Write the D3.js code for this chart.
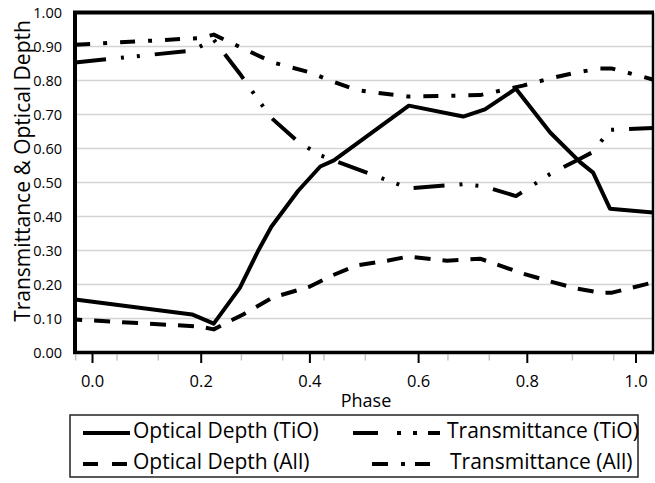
<!DOCTYPE html>
<html>
<head>
<meta charset="utf-8">
<script src="https://cdn.jsdelivr.net/npm/d3@7"></script>
<style>
  body { margin: 0; background: #fff; }
  svg { font-family: "Open Sans", sans-serif; }
</style>
</head>
<body>
<div id="chart"></div>
<script>
// data
var phaseTiO = [-0.031, 0.184, 0.224, 0.272, 0.305, 0.33, 0.379, 0.42, 0.445, 0.583, 0.683, 0.723, 0.78, 0.843, 0.898, 0.922, 0.953, 1.032];
var odTiO = [0.156, 0.112, 0.085, 0.19, 0.297, 0.37, 0.475, 0.547, 0.565, 0.726, 0.694, 0.715, 0.776, 0.647, 0.56, 0.529, 0.423, 0.412];
var trTiO = [0.853, 0.888, 0.92, 0.82, 0.745, 0.69, 0.62, 0.58, 0.565, 0.483, 0.495, 0.488, 0.46, 0.525, 0.57, 0.59, 0.655, 0.66];

var phaseAll = [-0.031, 0.2, 0.224, 0.278, 0.333, 0.401, 0.438, 0.487, 0.543, 0.581, 0.653, 0.714, 0.793, 0.843, 0.892, 0.935, 0.957, 1.032];
var odAll = [0.097, 0.076, 0.068, 0.112, 0.162, 0.194, 0.224, 0.256, 0.27, 0.282, 0.27, 0.276, 0.232, 0.209, 0.188, 0.176, 0.176, 0.206];
var trAll = [0.905, 0.925, 0.935, 0.894, 0.853, 0.824, 0.8, 0.772, 0.76, 0.753, 0.755, 0.757, 0.785, 0.806, 0.824, 0.835, 0.835, 0.803];

var xTicks = [0, 0.2, 0.4, 0.6, 0.8, 1.0];
var xMinorTicks = [-0.031, 0.045, 0.121, 0.274, 0.35, 0.426, 0.502, 0.654, 0.73, 0.883, 0.959];
var yTicks = [0, 0.1, 0.2, 0.3, 0.4, 0.5, 0.6, 0.7, 0.8, 0.9, 1.0];

var seriesNames = ["Optical Depth (TiO)", "Transmittance (TiO)", "Optical Depth (All)", "Transmittance (All)"];

// layout
var W = 655, H = 483;
var plot = { left: 75, right: 653, top: 12.5, bottom: 352.5 };

var svg = d3.select("#chart").append("svg")
  .attr("width", W)
  .attr("height", H);

var x = d3.scaleLinear().domain([-0.0313, 1.0322]).range([plot.left, plot.right]);
var y = d3.scaleLinear().domain([0, 1]).range([plot.bottom, plot.top]);

// gridlines
svg.append("g").selectAll("line")
  .data(yTicks.filter(function (d) { return d > 0 && d < 1; }))
  .join("line")
  .attr("x1", plot.left).attr("x2", plot.right)
  .attr("y1", function (d) { return y(d); })
  .attr("y2", function (d) { return y(d); })
  .attr("stroke", "#d4d4d4")
  .attr("stroke-width", 1.5);

// minor ticks (gray, below the axis)
var minor = svg.append("g")
  .attr("transform", "translate(0," + (plot.bottom + 2) + ")")
  .call(d3.axisBottom(x).tickValues(xMinorTicks).tickSize(6).tickFormat(""));
minor.select(".domain").remove();
minor.selectAll("line").attr("stroke", "#c4c4c4").attr("stroke-width", 1.5);

// major x ticks
var xAxis = svg.append("g")
  .attr("transform", "translate(0," + plot.bottom + ")")
  .call(d3.axisBottom(x).tickValues(xTicks).tickSize(10.5).tickFormat(d3.format(".1f")));
xAxis.select(".domain").remove();
xAxis.selectAll("line").attr("stroke", "#000").attr("stroke-width", 2);
xAxis.selectAll("text")
  .attr("y", 34.5).attr("dy", 0)
  .attr("fill", "#000")
  .style("font-size", "16.5px")
  .style("font-family", "Open Sans");

// y axis labels
var yAxis = svg.append("g")
  .attr("transform", "translate(" + plot.left + ",0)")
  .call(d3.axisLeft(y).tickValues(yTicks).tickSize(0).tickPadding(13).tickFormat(d3.format(".2f")));
yAxis.select(".domain").remove();
yAxis.selectAll("text")
  .attr("fill", "#000")
  .style("font-size", "14.5px")
  .style("font-family", "Open Sans");

// axis titles
svg.append("text")
  .attr("transform", "translate(30,171) rotate(-90)")
  .attr("text-anchor", "middle")
  .style("font-size", "21px")
  .text("Transmittance & Optical Depth");

svg.append("text")
  .attr("x", 366).attr("y", 407)
  .attr("text-anchor", "middle")
  .style("font-size", "18px")
  .text("Phase");

// lines
svg.append("clipPath").attr("id", "clip")
  .append("rect")
  .attr("x", plot.left).attr("y", plot.top)
  .attr("width", plot.right - plot.left).attr("height", plot.bottom - plot.top);

function makeLine(xs) {
  return d3.line()
    .x(function (d, i) { return x(xs[i]); })
    .y(function (d) { return y(d); });
}

var styles = [
  { values: odTiO, xs: phaseTiO, dash: null, offset: 0 },
  { values: trTiO, xs: phaseTiO, dash: "31,15,3,13,3,15", offset: 0 },
  { values: odAll, xs: phaseAll, dash: "16,12", offset: 9 },
  { values: trAll, xs: phaseAll, dash: "15,13,4,13", offset: 0 }
];

var lines = svg.append("g").attr("clip-path", "url(#clip)");
styles.forEach(function (s) {
  lines.append("path")
    .datum(s.values)
    .attr("d", makeLine(s.xs))
    .attr("fill", "none")
    .attr("stroke", "#000")
    .attr("stroke-width", 4)
    .attr("stroke-linejoin", "round")
    .attr("stroke-dasharray", s.dash)
    .attr("stroke-dashoffset", s.offset);
});

// frame
svg.append("line").attr("x1", plot.left - 2).attr("x2", plot.right + 1)
  .attr("y1", plot.top).attr("y2", plot.top)
  .attr("stroke", "#000").attr("stroke-width", 4);
svg.append("line").attr("x1", plot.left - 2).attr("x2", plot.right + 1)
  .attr("y1", plot.bottom).attr("y2", plot.bottom)
  .attr("stroke", "#000").attr("stroke-width", 3.5);
svg.append("line").attr("x1", plot.left).attr("x2", plot.left)
  .attr("y1", plot.top).attr("y2", plot.bottom)
  .attr("stroke", "#000").attr("stroke-width", 4);
svg.append("line").attr("x1", plot.right).attr("x2", plot.right)
  .attr("y1", plot.top).attr("y2", plot.bottom)
  .attr("stroke", "#000").attr("stroke-width", 2.5);

// legend
var legend = svg.append("g");
legend.append("rect")
  .attr("x", 70).attr("y", 415)
  .attr("width", 568).attr("height", 62)
  .attr("fill", "#fff")
  .attr("stroke", "#222")
  .attr("stroke-width", 1.5);

var legendItems = [
  { name: seriesNames[0], x1: 83, x2: 130, y: 433, tx: 133, ty: 438, dash: null },
  { name: seriesNames[1], x1: 353, x2: 440, y: 433, tx: 447, ty: 438, dash: "25,19,4,12,4,11" },
  { name: seriesNames[2], x1: 83, x2: 127, y: 464, tx: 133, ty: 469, dash: "15,14" },
  { name: seriesNames[3], x1: 372, x2: 430, y: 464, tx: 450, ty: 469, dash: "16,13,4,10" }
];

legendItems.forEach(function (d) {
  legend.append("line")
    .attr("x1", d.x1).attr("x2", d.x2)
    .attr("y1", d.y).attr("y2", d.y)
    .attr("stroke", "#000")
    .attr("stroke-width", 4)
    .attr("stroke-dasharray", d.dash);
  legend.append("text")
    .attr("x", d.tx).attr("y", d.ty)
    .style("font-size", "21px")
    .text(d.name);
});
</script>
</body>
</html>
